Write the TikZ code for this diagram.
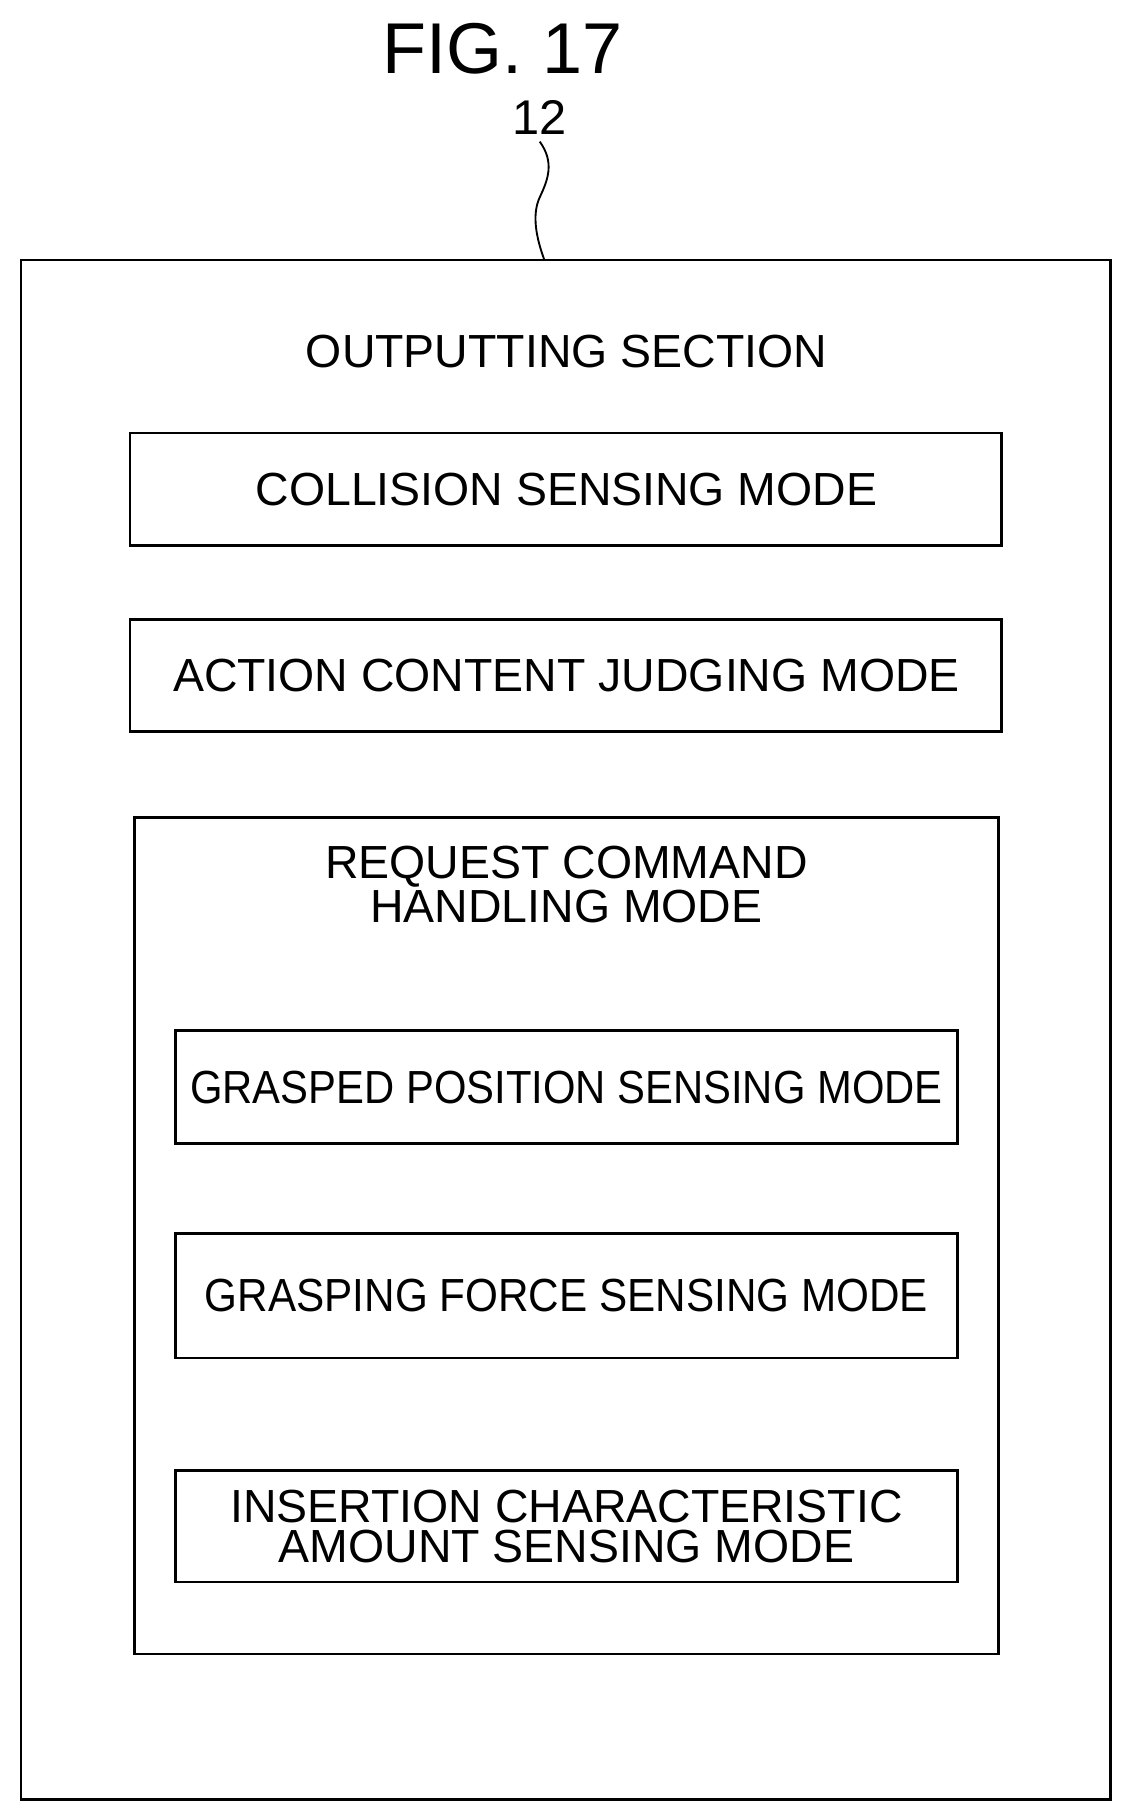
\documentclass[tikz,border=0pt]{standalone}
\usepackage{fontspec}
\setmainfont{Liberation Sans}
\begin{document}
\begin{tikzpicture}[x=0.5pt,y=-0.5pt,
  box/.style={draw,line width=1.2pt},
  lbl/.style={font=\fontsize{20}{19}\selectfont,align=center,inner sep=0pt}]
\useasboundingbox (0,0) rectangle (975,1568);
\node[font=\fontsize{31}{33}\selectfont,inner sep=0pt] (fig) at (433,42) {FIG. 17};
\node[font=\fontsize{21}{22}\selectfont,inner sep=0pt] (ref) at (465,101) {12};
\draw[box] (18,224) rectangle (957,1550);
\coordinate (top) at (469,224);
\draw[line width=0.8pt] (465,122) .. controls (478,140) and (472,155) .. (465,170) .. controls (458,185) and (462,205) .. (top);
\node[lbl] (out) at (488,303) {OUTPUTTING SECTION};
\draw[box] (112,373) rectangle (863,470);
\node[lbl] (b1) at (488,422) {COLLISION SENSING MODE};
\draw[box] (112,534) rectangle (863,630);
\node[lbl] (b2) at (488,582) {ACTION CONTENT JUDGING MODE};
\draw[box] (116,704) rectangle (860,1425);
\node[lbl] (b3) at (488,762) {REQUEST COMMAND\\HANDLING MODE};
\draw[box] (151,888) rectangle (825,985);
\node[lbl,xscale=0.9] (b4) at (488,937) {GRASPED POSITION SENSING MODE};
\draw[box] (151,1063) rectangle (825,1170);
\node[lbl,xscale=0.91] (b5) at (488,1116) {GRASPING FORCE SENSING MODE};
\draw[box] (151,1267) rectangle (825,1363);
\node[lbl,font=\fontsize{20}{17.5}\selectfont] (b6) at (488,1315) {INSERTION CHARACTERISTIC\\AMOUNT SENSING MODE};
\end{tikzpicture}
\end{document}
